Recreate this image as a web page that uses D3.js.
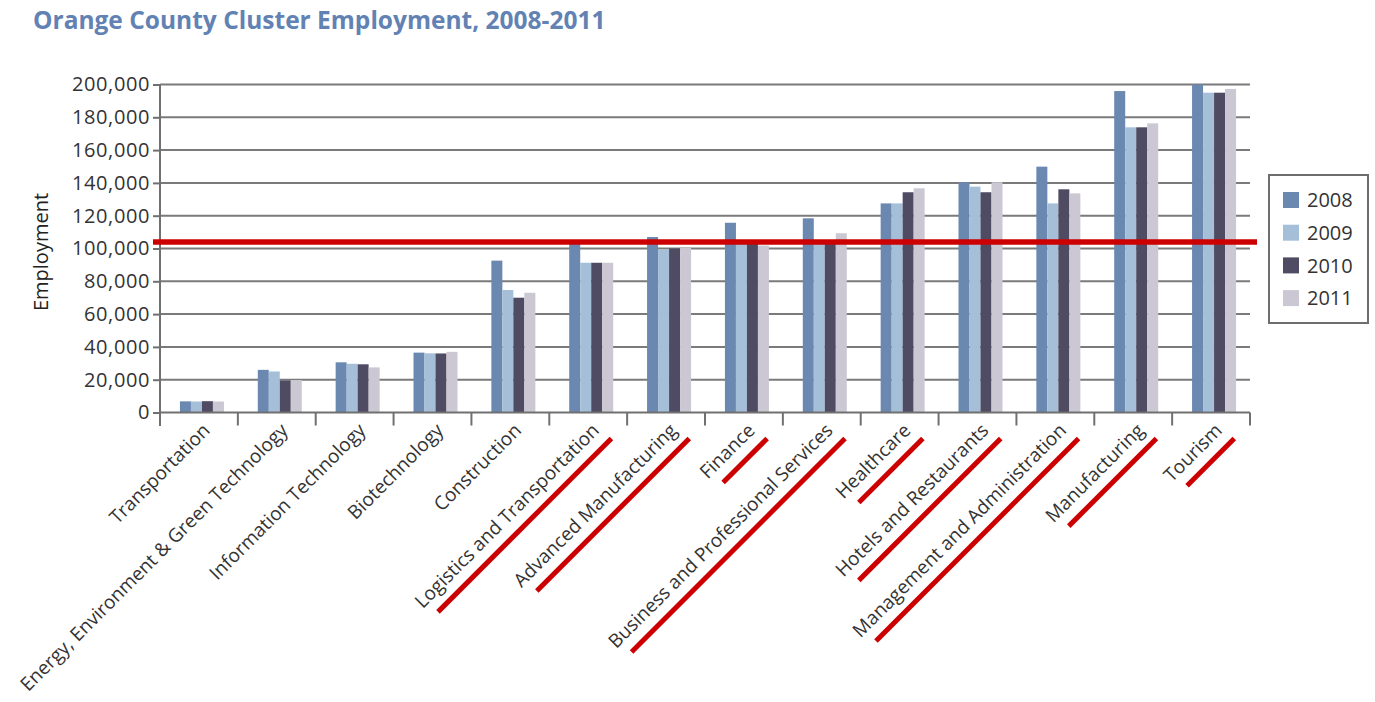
<!DOCTYPE html>
<html>
<head>
<meta charset="utf-8">
<script src="https://cdn.jsdelivr.net/npm/d3@7"></script>
<style>
  body { margin: 0; background: #fff; }
  text { font-family: "Open Sans", "Noto Sans", sans-serif; }
</style>
</head>
<body>
<div id="chart"></div>
<script>
// categories (x axis) and the four yearly series
var categories = ["Transportation", "Energy, Environment & Green Technology", "Information Technology",
  "Biotechnology", "Construction", "Logistics and Transportation", "Advanced Manufacturing", "Finance",
  "Business and Professional Services", "Healthcare", "Hotels and Restaurants",
  "Management and Administration", "Manufacturing", "Tourism"];
var years = ["2008", "2009", "2010", "2011"];
var y2008 = [6800, 26000, 30600, 36500, 92600, 104500, 107000, 115700, 118400, 127500, 140400, 149900, 196000, 200000];
var y2009 = [6700, 25000, 29700, 36100, 74700, 91300, 99200, 103000, 103500, 127500, 137700, 127500, 173900, 195000];
var y2010 = [6900, 19500, 29400, 36000, 70000, 91300, 100000, 103200, 104000, 134300, 134300, 136100, 173900, 195000];
var y2011 = [6700, 19800, 27500, 37000, 73000, 91300, 100300, 101800, 109300, 136700, 140400, 133600, 176300, 197300];
var yTicks = [0, 20000, 40000, 60000, 80000, 100000, 120000, 140000, 160000, 180000, 200000];
// hand drawn red marks: threshold line and underlined clusters
var threshold = 104000;
var underlined = ["Logistics and Transportation", "Advanced Manufacturing", "Finance",
  "Business and Professional Services", "Healthcare", "Hotels and Restaurants",
  "Management and Administration", "Manufacturing", "Tourism"];

var series = [y2008, y2009, y2010, y2011];
var colors = ["#6a88b0", "#a6bfd9", "#4f4b63", "#cbc8d3"];

var svg = d3.select("#chart").append("svg")
  .attr("width", 1375).attr("height", 702);

var x0 = 160, x1 = 1250;
var x = d3.scaleBand().domain(categories).range([x0, x1]);
var xi = d3.scaleBand().domain(years).range([0, 44]);
var y = d3.scaleLinear().domain([0, 200000]).range([412.5, 84.5]);

// title
svg.append("text")
  .attr("x", 33).attr("y", 29)
  .attr("font-size", 24.5).attr("font-weight", "bold")
  .attr("fill", "#6282b3")
  .text("Orange County Cluster Employment, 2008-2011");

// gridlines
svg.append("g").selectAll("line")
  .data(yTicks.slice(1))
  .enter().append("line")
  .attr("x1", x0).attr("x2", x1)
  .attr("y1", function (d) { return y(d); })
  .attr("y2", function (d) { return y(d); })
  .attr("stroke", "#7a7a7a").attr("stroke-width", 2);

// y axis
var yAxis = svg.append("g")
  .attr("transform", "translate(" + x0 + ",0)")
  .call(d3.axisLeft(y).tickValues(yTicks).tickSizeInner(7).tickSizeOuter(0)
    .tickPadding(3).tickFormat(d3.format(",")));
yAxis.select(".domain").remove();
yAxis.selectAll("line").attr("stroke", "#707070").attr("stroke-width", 2);
yAxis.selectAll("text").attr("font-size", 20).attr("fill", "#333")
  .attr("letter-spacing", 0.6).style("font-family", "'Open Sans'");
svg.append("line")
  .attr("x1", x0).attr("x2", x0).attr("y1", y(200000)).attr("y2", 426)
  .attr("stroke", "#707070").attr("stroke-width", 2);

svg.append("text")
  .attr("transform", "translate(48," + 252 + ") rotate(-90)")
  .attr("text-anchor", "middle")
  .attr("font-size", 20).attr("fill", "#222")
  .text("Employment");

// bars
var groups = svg.append("g").selectAll("g")
  .data(categories)
  .enter().append("g")
  .attr("transform", function (d) {
    return "translate(" + (x(d) + (x.bandwidth() - 44) / 2 + 3) + ",0)";
  });
groups.selectAll("rect")
  .data(function (d, i) {
    return years.map(function (yr, k) { return { year: yr, k: k, v: series[k][i] }; });
  })
  .enter().append("rect")
  .attr("x", function (d) { return xi(d.year); })
  .attr("width", xi.bandwidth())
  .attr("y", function (d) { return y(d.v); })
  .attr("height", function (d) { return y(0) - y(d.v); })
  .attr("fill", function (d) { return colors[d.k]; });

// x axis
var xAxis = svg.append("g")
  .attr("transform", "translate(0," + y(0) + ")");
xAxis.append("line")
  .attr("x1", x0).attr("x2", x1)
  .attr("stroke", "#707070").attr("stroke-width", 2);
xAxis.selectAll(".tk")
  .data(categories.concat([null]))
  .enter().append("line")
  .attr("class", "tk")
  .attr("x1", function (d) { return d === null ? x1 : x(d); })
  .attr("x2", function (d) { return d === null ? x1 : x(d); })
  .attr("y1", 0).attr("y2", 13)
  .attr("stroke", "#707070").attr("stroke-width", 2);

var labels = xAxis.selectAll(".lbl")
  .data(categories)
  .enter().append("g")
  .attr("class", "lbl")
  .attr("transform", function (d) {
    return "translate(" + (x(d) + x.bandwidth() / 2 + 2) + ",9) rotate(-45)";
  });
labels.append("text")
  .attr("text-anchor", "end")
  .attr("dy", "0.75em")
  .attr("font-size", 19).attr("fill", "#333")
  .text(function (d) { return d; });
labels.filter(function (d) { return underlined.indexOf(d) >= 0; })
  .each(function () {
    var g = d3.select(this);
    var len = g.select("text").node().getComputedTextLength();
    g.append("line")
      .attr("x1", -len + 9).attr("x2", 3)
      .attr("y1", 27).attr("y2", 27)
      .attr("stroke", "#cc0000").attr("stroke-width", 5);
  });

// threshold line
svg.append("line")
  .attr("x1", 153).attr("x2", 1257)
  .attr("y1", y(threshold)).attr("y2", y(threshold))
  .attr("stroke", "#cc0000").attr("stroke-width", 5.5);

// legend
var legend = svg.append("g");
legend.append("rect")
  .attr("x", 1269).attr("y", 175).attr("width", 99).attr("height", 148)
  .attr("fill", "#fff").attr("stroke", "#6d6d6d").attr("stroke-width", 2);
var items = legend.selectAll(".item")
  .data(years)
  .enter().append("g")
  .attr("transform", function (d, i) { return "translate(1283," + (200 + i * 32.7) + ")"; });
items.append("rect")
  .attr("y", -8).attr("width", 16).attr("height", 16)
  .attr("fill", function (d, i) { return colors[i]; });
items.append("text")
  .attr("x", 24).attr("dy", "0.36em")
  .attr("font-size", 20).attr("fill", "#333")
  .text(function (d) { return d; });
</script>
</body>
</html>
